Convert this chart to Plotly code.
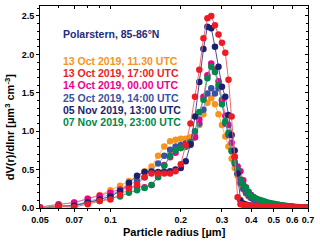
import plotly.graph_objects as go

radius = [0.05,0.06,0.07,0.08,0.09,0.10,0.11,0.12,0.13,0.14,
          0.15,0.16,0.17,0.18,0.19,0.20,0.21,0.22,0.23,0.24,
          0.25,0.26,0.27,0.28,0.29,0.30,0.31,0.32,0.33,0.34,
          0.35,0.36,0.37,0.38,0.39,0.40,0.41,0.42,0.43,0.44,
          0.45,0.46,0.47,0.48,0.49,0.50,0.51,0.52,0.53,0.54,
          0.55,0.56,0.57,0.58,0.59,0.60,0.61,0.62,0.63,0.64,
          0.65,0.66,0.67,0.68,0.69,0.70]

oct13_1130 = [0.01,0.04,0.07,0.12,0.17,0.23,0.29,0.35,0.41,0.48,
              0.54,0.68,0.80,0.87,0.89,0.90,0.90,0.92,0.96,1.08,
              1.22,1.37,1.43,1.35,1.22,1.08,0.93,0.80,0.64,0.52,
              0.42,0.31,0.24,0.19,0.15,0.13,0.11,0.10,0.09,0.08,
              0.07,0.06,0.055,0.05,0.045,0.04,0.036,0.032,0.028,0.025,
              0.022,0.02,0.018,0.016,0.014,0.012,0.011,0.01,0.009,0.008,
              0.007,0.006,0.005,0.005,0.004,0.004]

oct13_1700 = [0.00,0.02,0.01,0.05,0.09,0.11,0.17,0.25,0.31,0.40,
              0.45,0.45,0.45,0.45,0.48,0.57,0.82,1.10,1.45,1.80,
              2.21,2.47,2.50,2.38,2.26,2.15,2.02,1.67,1.19,0.67,
              0.14,0.05,0.04,0.035,0.03,0.028,0.026,0.024,0.022,0.02,
              0.019,0.018,0.017,0.016,0.015,0.014,0.013,0.012,0.012,0.011,
              0.01,0.01,0.009,0.009,0.008,0.008,0.007,0.007,0.006,0.006,
              0.005,0.005,0.005,0.004,0.004,0.004]

oct14_0000 = [0.01,0.05,0.07,0.12,0.16,0.20,0.24,0.26,0.28,0.27,
              0.30,0.42,0.56,0.66,0.72,0.78,0.80,0.82,0.92,1.15,
              1.45,1.73,1.88,1.80,1.65,1.41,1.20,1.08,0.85,0.66,
              0.54,0.48,0.36,0.27,0.21,0.17,0.14,0.12,0.10,0.09,
              0.08,0.07,0.06,0.055,0.05,0.045,0.04,0.035,0.032,0.028,
              0.025,0.022,0.02,0.018,0.016,0.014,0.012,0.011,0.01,0.009,
              0.008,0.007,0.006,0.005,0.005,0.004]

oct25_1400 = [0.00,0.02,0.04,0.08,0.13,0.17,0.22,0.30,0.35,0.40,
              0.48,0.58,0.68,0.76,0.80,0.82,0.84,0.86,0.92,1.10,
              1.28,1.49,1.56,1.49,1.56,1.40,1.10,0.95,0.75,0.58,
              0.45,0.33,0.25,0.20,0.16,0.13,0.11,0.10,0.09,0.08,
              0.07,0.06,0.055,0.05,0.045,0.04,0.036,0.032,0.028,0.025,
              0.022,0.02,0.018,0.016,0.014,0.012,0.011,0.01,0.009,0.008,
              0.007,0.006,0.005,0.005,0.004,0.004]

nov05_1300 = [0.00,0.02,0.03,0.07,0.11,0.15,0.22,0.33,0.42,0.47,
              0.47,0.47,0.47,0.48,0.50,0.52,0.61,0.83,1.19,1.64,
              2.07,2.36,2.34,2.10,1.84,1.58,1.45,1.21,0.95,0.75,
              0.45,0.10,0.06,0.045,0.035,0.03,0.025,0.02,0.018,0.015,
              0.013,0.011,0.01,0.009,0.008,0.007,0.006,0.006,0.005,0.005,
              0.004,0.004,0.004,0.003,0.003,0.003,0.003,0.002,0.002,0.002,
              0.002,0.002,0.001,0.001,0.001,0.001]

nov07_2300 = [0.00,0.03,0.03,0.07,0.09,0.13,0.15,0.20,0.23,0.26,
              0.30,0.40,0.55,0.68,0.75,0.78,0.80,0.85,1.00,1.25,
              1.41,1.69,1.84,1.77,1.60,1.35,1.13,0.98,0.74,0.60,
              0.50,0.37,0.31,0.26,0.20,0.16,0.14,0.12,0.11,0.10,
              0.09,0.08,0.07,0.065,0.06,0.055,0.05,0.045,0.04,0.036,
              0.032,0.028,0.025,0.022,0.02,0.018,0.016,0.014,0.012,0.01,
              0.009,0.008,0.007,0.006,0.005,0.004]

labels = ["13 Oct 2019, 11.30 UTC", "13 Oct 2019, 17:00 UTC", "14 Oct 2019, 00.00 UTC",
          "25 Oct 2019, 14:00 UTC", "05 Nov 2019, 13:00 UTC", "07 Nov 2019, 23:00 UTC"]
colors = ["#F7941D", "#ED1C24", "#EC008C", "#3953A4", "#1B1F6E", "#00894A"]
linecolors = ["#F9B26A", "#F26B6B", "#F266B5", "#6FB8E8", "#4A4F9A", "#4DB07A"]
series = [oct13_1130, oct13_1700, oct14_0000, oct25_1400, nov05_1300, nov07_2300]
draw_order = [0, 3, 2, 5, 4, 1]

x_tickvals = [0.05, 0.07, 0.1, 0.2, 0.3, 0.4, 0.5, 0.6, 0.7]
x_ticktext = ["0.05", "0.07", "0.1", "0.2", "0.3", "0.4", "0.5", "0.6", "0.7"]
x_minor = [0.06, 0.08, 0.09]
y_tickvals = [0.0, 0.5, 1.0, 1.5, 2.0, 2.5]
y_ticktext = ["0.0", "0.5", "1.0", "1.5", "2.0", "2.5"]

FONT = "Arial, Liberation Sans, sans-serif"
XRANGE = [-1.30103, -0.154902]
YRANGE = [0, 2.63]

fig = go.Figure()
for i in draw_order:
    fig.add_trace(go.Scatter(
        x=radius, y=series[i], mode="lines+markers", name=labels[i],
        line=dict(color=linecolors[i], width=1),
        marker=dict(color=colors[i], size=6.5, line=dict(width=0)),
        showlegend=False))

# invisible trace to activate the mirrored (top/right) tick axes
fig.add_trace(go.Scatter(x=[radius[0]], y=[0], xaxis="x2", yaxis="y2", mode="markers",
                         marker=dict(opacity=0), hoverinfo="skip", showlegend=False))

fig.add_annotation(xref="paper", yref="paper", x=0.078, y=0.86, xanchor="left", yanchor="middle",
                   text="<b>Polarstern, 85-86°N</b>", showarrow=False,
                   font=dict(family=FONT, size=10.5, color="#1F2A7A"))
ys = [0.730, 0.669, 0.608, 0.547, 0.486, 0.425]
for k in range(6):
    fig.add_annotation(xref="paper", yref="paper", x=0.078, y=ys[k], xanchor="left", yanchor="middle",
                       text="<b>" + labels[k] + "</b>", showarrow=False,
                       font=dict(family=FONT, size=10.5, color=colors[k]))

# axis titles
fig.add_annotation(xref="paper", yref="paper", x=0.5, y=-0.12, xanchor="center", yanchor="middle",
                   text="<b>Particle radius [µm]</b>", showarrow=False,
                   font=dict(family=FONT, size=11, color="black"))
fig.add_annotation(xref="paper", yref="paper", x=-0.112, y=0.40, xanchor="center", yanchor="middle",
                   text="<b>dV(r)/dlnr [µm<sup>3</sup> cm<sup>-3</sup>]</b>", showarrow=False,
                   textangle=-90, font=dict(family=FONT, size=11, color="black"))

tickfont = dict(family=FONT, size=9, color="black", weight="bold")

fig.update_layout(
    width=320, height=243,
    autosize=False,
    margin=dict(l=40, r=12, t=6, b=35, pad=0),
    paper_bgcolor="white", plot_bgcolor="white",
    font=dict(family=FONT, color="black"),
    xaxis=dict(type="log", range=XRANGE, automargin=False,
               tickmode="array", tickvals=x_tickvals, ticktext=x_ticktext,
               ticks="outside", ticklen=3, tickwidth=1, tickcolor="black",
               minor=dict(tickmode="array", tickvals=x_minor, ticks="outside", ticklen=2, tickcolor="black"),
               showline=True, linecolor="black", linewidth=1, mirror=True,
               showgrid=False, zeroline=False, tickfont=tickfont),
    yaxis=dict(range=YRANGE, automargin=False,
               tickmode="array", tickvals=y_tickvals, ticktext=y_ticktext,
               ticks="outside", ticklen=3, tickwidth=1, tickcolor="black",
               minor=dict(dtick=0.1, ticks="outside", ticklen=2, tickcolor="black"),
               showline=True, linecolor="black", linewidth=1, mirror=True,
               showgrid=False, zeroline=False, tickfont=tickfont),
    xaxis2=dict(type="log", range=XRANGE, overlaying="x", side="top", automargin=False,
                tickmode="array", tickvals=x_tickvals, showticklabels=False,
                ticks="inside", ticklen=3, tickcolor="black",
                minor=dict(tickmode="array", tickvals=x_minor, ticks="inside", ticklen=2, tickcolor="black"),
                showgrid=False, zeroline=False, showline=False),
    yaxis2=dict(range=YRANGE, overlaying="y", side="right", automargin=False,
                tickmode="array", tickvals=y_tickvals, showticklabels=False,
                ticks="inside", ticklen=3, tickcolor="black",
                minor=dict(dtick=0.1, ticks="inside", ticklen=2, tickcolor="black"),
                showgrid=False, zeroline=False, showline=False),
)

fig.write_html("out.html", config={"displayModeBar": False, "staticPlot": True},
               post_script="document.body.style.margin='0';document.body.style.padding='0';")
